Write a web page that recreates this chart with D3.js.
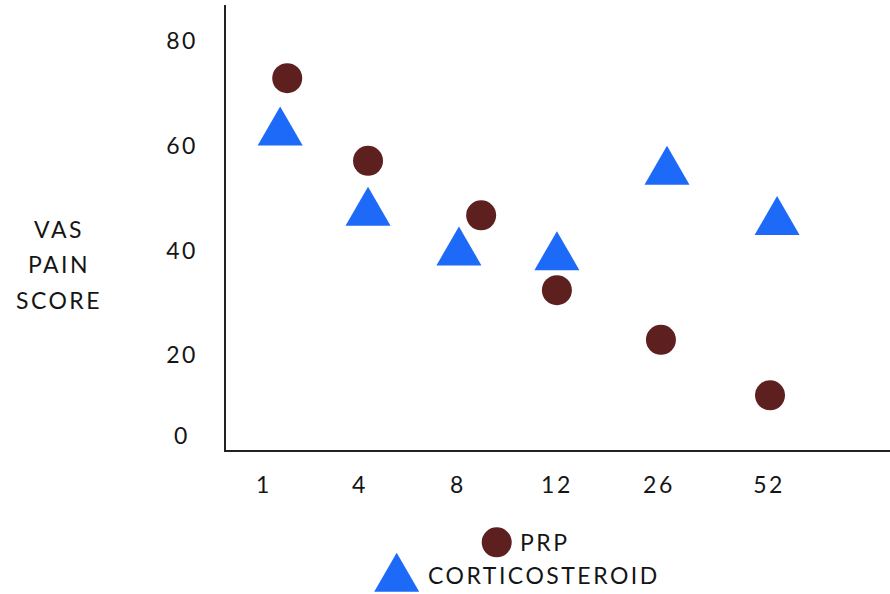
<!DOCTYPE html>
<html><head><meta charset="utf-8">
<script src="https://cdn.jsdelivr.net/npm/d3@7"></script>
<style>body{margin:0;background:#fff}svg{display:block}</style>
</head><body><svg id="c" width="890" height="594"></svg>
<script>
// ---- data ----
const weekLabels = ["1", "4", "8", "12", "26", "52"];
const weekLabelPos = [0, 0.95, 1.92, 2.9, 3.91, 5.0];
const prpPos = [0.23, 1.03, 2.15, 2.9, 3.93, 5.01];
const prpValues = [72.9, 57.1, 46.7, 32.4, 22.9, 12.3];
const corticoPos = [0.16, 1.03, 1.93, 2.9, 3.99, 5.08];
const corticoValues = [62.5, 47.2, 39.6, 38.7, 55.0, 45.4];
const yTicks = [0, 20, 40, 60, 80];
const yTitle = ["VAS", "PAIN", "SCORE"];
const seriesNames = ["PRP", "CORTICOSTEROID"];

// ---- layout ----
const plotLeft = 225, plotTop = 5, plotBottom = 451, plotRight = 890;
const FONT = "Lato, 'DejaVu Sans', sans-serif";
const PRP_COLOR = "#5e201f", CORT_COLOR = "#1e6af8", INK = "#151515";

const svg = d3.select("#c");
const x = d3.scaleLinear().domain([0, 5]).range([264, 769]);
const y = d3.scaleLinear().domain([0, 80]).range([459.7, 41]);

// axes
svg.append("line").attr("x1", plotLeft).attr("x2", plotLeft).attr("y1", plotTop).attr("y2", plotBottom)
  .attr("stroke", "#222").attr("stroke-width", 2);
svg.append("line").attr("x1", plotLeft - 1).attr("x2", plotRight).attr("y1", plotBottom).attr("y2", plotBottom)
  .attr("stroke", "#222").attr("stroke-width", 2);

const textBase = sel => sel.attr("font-family", FONT).attr("font-size", 23)
  .attr("fill", INK).attr("letter-spacing", 2.5);

// y tick labels
svg.append("g").selectAll("text").data(yTicks).join("text")
  .call(textBase)
  .attr("x", 182).attr("text-anchor", "middle")
  .attr("y", d => Math.min(y(d), plotBottom - 15)).attr("dy", "0.36em")
  .text(d => d);

// x tick labels
svg.append("g").selectAll("text").data(weekLabels).join("text")
  .call(textBase)
  .attr("x", (d, i) => x(weekLabelPos[i])).attr("text-anchor", "middle")
  .attr("y", 485).attr("dy", "0.36em")
  .text(d => d);

// y title
svg.append("g").selectAll("text").data(yTitle).join("text")
  .call(textBase)
  .attr("x", 59).attr("text-anchor", "middle")
  .attr("y", (d, i) => 230 + i * 35.2).attr("dy", "0.36em")
  .text(d => d);

// markers
const tri = d3.symbol().type(d3.symbolTriangle).size(878);
svg.append("g").selectAll("path").data(corticoValues).join("path")
  .attr("d", tri)
  .attr("transform", (d, i) => `translate(${x(corticoPos[i])},${y(d)})`)
  .attr("fill", CORT_COLOR);
svg.append("g").selectAll("circle").data(prpValues).join("circle")
  .attr("cx", (d, i) => x(prpPos[i])).attr("cy", d => y(d)).attr("r", 15)
  .attr("fill", PRP_COLOR);

// legend
const lg = svg.append("g");
lg.append("circle").attr("cx", 496.7).attr("cy", 542.3).attr("r", 15).attr("fill", PRP_COLOR);
lg.append("text").call(textBase).attr("x", 520).attr("y", 542.3).attr("dy", "0.36em").text(seriesNames[0]);
lg.append("path").attr("d", tri).attr("transform", "translate(396.7,578.7)").attr("fill", CORT_COLOR);
lg.append("text").call(textBase).attr("x", 428).attr("y", 575.7).attr("dy", "0.36em").text(seriesNames[1]);
</script>
</body></html>
